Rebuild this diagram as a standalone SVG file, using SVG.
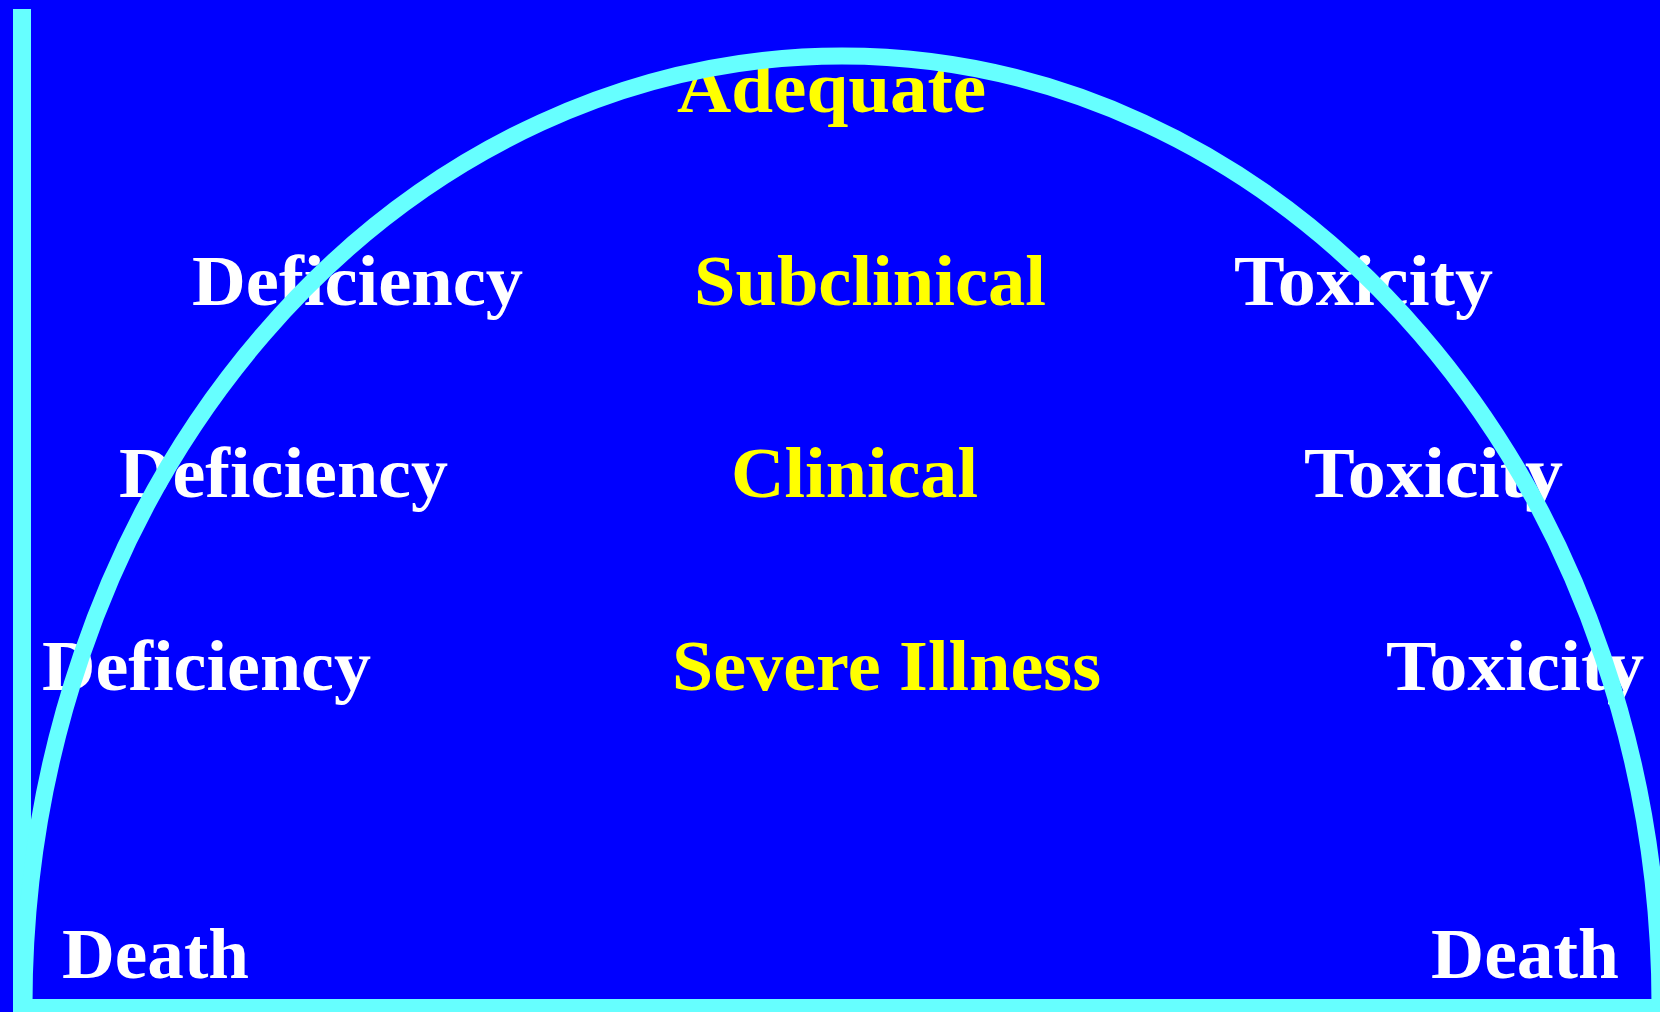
<svg xmlns="http://www.w3.org/2000/svg" width="1660" height="1012" viewBox="0 0 1660 1012">
  <style>
    .lbl { font-family: "Liberation Serif", "Times New Roman", serif; font-weight: bold; font-size: 72px; }
    .state { fill: #FFFF00; }
    .side { fill: #FFFFFF; }
    .axis { fill: #66FFFF; }
    .curve { fill: none; stroke: #66FFFF; stroke-width: 17; }
  </style>

  <!-- background -->
  <rect width="1660" height="1012" fill="#0000FF"/>

  <!-- axes -->
  <g id="axes">
    <rect class="axis" x="13" y="9" width="18" height="1003"/>
    <rect class="axis" x="13" y="999" width="1647" height="13"/>
  </g>

  <!-- labels: centre column -->
  <g id="adequate"><text class="lbl state" x="677" y="112" textLength="309" lengthAdjust="spacingAndGlyphs">Adequate</text></g>
  <g id="subclinical"><text class="lbl state" x="694" y="305" textLength="352" lengthAdjust="spacingAndGlyphs">Subclinical</text></g>
  <g id="clinical"><text class="lbl state" x="731" y="497" textLength="247" lengthAdjust="spacingAndGlyphs">Clinical</text></g>
  <g id="severe-illness"><text class="lbl state" x="672" y="690" textLength="429" lengthAdjust="spacingAndGlyphs">Severe Illness</text></g>

  <!-- labels: deficiency side -->
  <g id="deficiency-1"><text class="lbl side" x="192" y="305" textLength="331" lengthAdjust="spacingAndGlyphs">Deficiency</text></g>
  <g id="deficiency-2"><text class="lbl side" x="119" y="497" textLength="329" lengthAdjust="spacingAndGlyphs">Deficiency</text></g>
  <g id="deficiency-3"><text class="lbl side" x="42" y="690" textLength="329" lengthAdjust="spacingAndGlyphs">Deficiency</text></g>
  <g id="death-left"><text class="lbl side" x="62" y="978" textLength="187" lengthAdjust="spacingAndGlyphs">Death</text></g>

  <!-- labels: toxicity side -->
  <g id="toxicity-1"><text class="lbl side" x="1234" y="305" textLength="259" lengthAdjust="spacingAndGlyphs">Toxicity</text></g>
  <g id="toxicity-2"><text class="lbl side" x="1304" y="497" textLength="259" lengthAdjust="spacingAndGlyphs">Toxicity</text></g>
  <g id="toxicity-3"><text class="lbl side" x="1386" y="690" textLength="258" lengthAdjust="spacingAndGlyphs">Toxicity</text></g>
  <g id="death-right"><text class="lbl side" x="1431" y="978" textLength="188" lengthAdjust="spacingAndGlyphs">Death</text></g>

  <!-- response curve, drawn over the labels -->
  <g id="curve">
    <path class="curve" d="M 24 1005 A 818 949 0 0 1 1660 1005"/>
  </g>
</svg>
